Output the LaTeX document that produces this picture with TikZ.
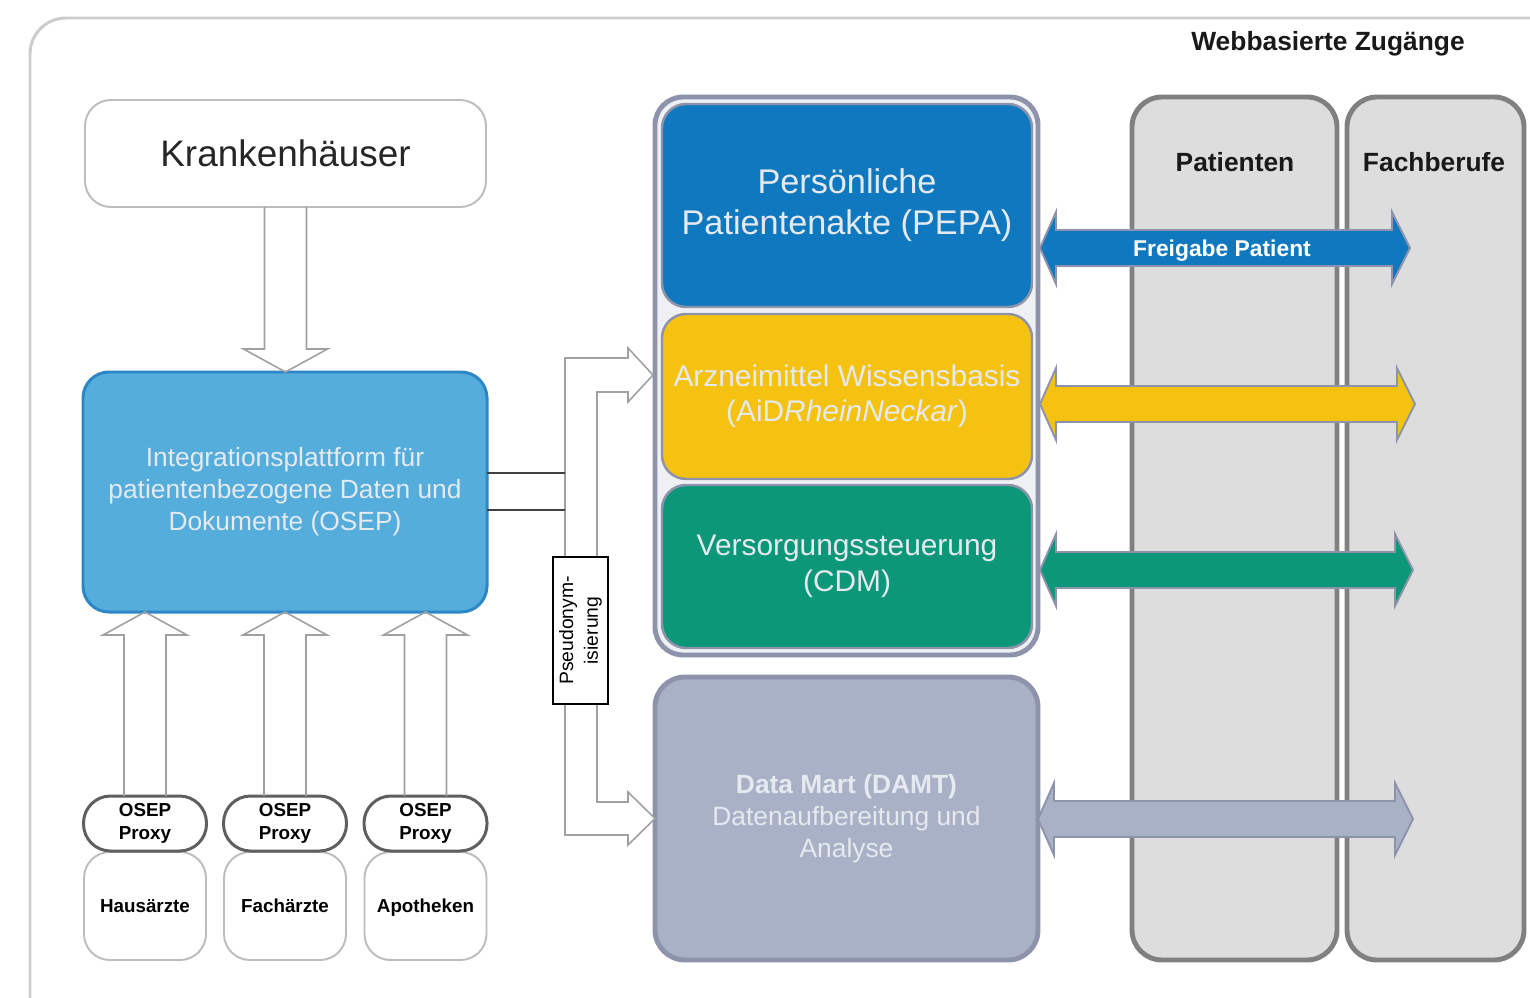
\documentclass[tikz,border=0pt]{standalone}
\usepackage{fontspec}
\setmainfont{Liberation Sans}
\usetikzlibrary{calc}
\definecolor{outerline}{HTML}{CCCCCC}
\definecolor{lightline}{HTML}{BDBDBD}
\definecolor{hollowgrey}{HTML}{A0A0A0}
\definecolor{osepfill}{HTML}{55ADDC}
\definecolor{osepline}{HTML}{2B87C8}
\definecolor{pepafill}{HTML}{1078BE}
\definecolor{aidfill}{HTML}{F6C211}
\definecolor{cdmfill}{HTML}{0B9778}
\definecolor{damtfill}{HTML}{A9B1C7}
\definecolor{modline}{HTML}{8D93AA}
\definecolor{framefill}{HTML}{EEF0F4}
\definecolor{colfill}{HTML}{DDDDDD}
\definecolor{colline}{HTML}{808080}
\definecolor{proxyline}{HTML}{5F5F5F}
\definecolor{modtext}{HTML}{E4EAEF}
\newcommand{\pxu}{0.02cm}
\newcommand{\hollowarr}[3]{\draw[hollowline] ($(#1)+(-21,0)$) -- ($(#2)+(-21,#3*23)$) -- ($(#2)+(-42,#3*23)$) -- (#2) -- ($(#2)+(42,#3*23)$) -- ($(#2)+(21,#3*23)$) -- ($(#1)+(21,0)$);}
\newcommand{\dblarr}[3]{\draw[dblarrowstyle, fill=#3] (#1) -- ($(#1)+(16,-36)$) -- ($(#1)+(16,-18)$) -- ($(#2)+(-18,-18)$) -- ($(#2)+(-18,-36)$) -- (#2) -- ($(#2)+(-18,36)$) -- ($(#2)+(-18,18)$) -- ($(#1)+(16,18)$) -- ($(#1)+(16,36)$) -- cycle;}
\begin{document}
\begin{tikzpicture}[x=0.02cm,y=-0.02cm,
 every node/.style={inner sep=0pt, outer sep=0pt, align=center},
 lightbox/.style={draw=lightline, line width=1.1pt, fill=white, rounded corners=26*\pxu},
 module/.style={draw=modline, line width=1.4pt, rounded corners=24*\pxu, text=modtext},
 column/.style={draw=colline, line width=2.8pt, fill=colfill, rounded corners=30*\pxu},
 proxybox/.style={draw=proxyline, line width=1.7pt, fill=white, rounded corners=27*\pxu, minimum width=123*\pxu, minimum height=55*\pxu, font=\bfseries\fontsize{10.7}{13}\selectfont},
 clientbox/.style={lightbox, minimum width=122*\pxu, minimum height=108*\pxu, text height=7.7pt, text depth=0pt, font=\bfseries\fontsize{10.7}{13}\selectfont},
 hollowline/.style={draw=hollowgrey, line width=0.9pt, line join=miter},
 darkline/.style={draw=black!75, line width=1.2pt},
 dblarrowstyle/.style={draw=modline, line width=1.1pt, line join=miter},
 coltitle/.style={font=\bfseries\fontsize{15}{18}\selectfont, text=black!90},
]
\useasboundingbox (0,0) rectangle (1530,997);
\clip (0,0) rectangle (1530,997);
\fill[white] (0,0) rectangle (1530,997);

% outer container
\draw[outerline, line width=1.7pt, rounded corners=36*\pxu] (30,18) rectangle (1620,1080);

\node[coltitle] (web) at (1328,44) {Webbasierte Zugänge};

% left side
\node[lightbox, minimum width=401*\pxu, minimum height=107*\pxu, text height=17pt, text depth=2pt, font=\fontsize{21}{25}\selectfont, text=black!85] (kh) at (285.5,153.5) {Krankenhäuser};

\node[draw=osepline, line width=1.7pt, fill=osepfill, rounded corners=26*\pxu, minimum width=404*\pxu, minimum height=240*\pxu, text=modtext, font=\fontsize{15}{18.2}\selectfont] (osep) at (285,492) {Integrationsplattform für\\patientenbezogene Daten und\\Dokumente (OSEP)};

\node[clientbox] (haus) at (145,906) {Hausärzte};
\node[clientbox] (fach) at (285,906) {Fachärzte};
\node[clientbox] (apo) at (425.5,906) {Apotheken};
\node[proxybox] (proxy1) at (145,823.5) {OSEP\\Proxy};
\node[proxybox] (proxy2) at (285,823.5) {OSEP\\Proxy};
\node[proxybox] (proxy3) at (425.5,823.5) {OSEP\\Proxy};

\coordinate (t0) at (kh.south |- osep.north);
\coordinate (t1) at (proxy1.north |- osep.south);
\coordinate (t2) at (proxy2.north |- osep.south);
\coordinate (t3) at (proxy3.north |- osep.south);
\hollowarr{kh.south}{t0}{-1}
\hollowarr{proxy1.north}{t1}{1}
\hollowarr{proxy2.north}{t2}{1}
\hollowarr{proxy3.north}{t3}{1}

% right columns
\node[column, minimum width=205*\pxu, minimum height=863*\pxu] (pat) at (1234.5,528.5) {};
\node[column, minimum width=177*\pxu, minimum height=863*\pxu] (fb) at (1435.5,528.5) {};
\node[coltitle] (pattitle) at (1235,162) {Patienten};
\node[coltitle] (fbtitle) at (1434,162) {Fachberufe};

% modules
\node[draw=modline, line width=2.8pt, fill=framefill, rounded corners=28*\pxu, minimum width=383*\pxu, minimum height=558*\pxu] (frame) at (846.5,376) {};
\node[module, fill=pepafill, minimum width=370*\pxu, minimum height=203*\pxu, font=\fontsize{19.5}{23.3}\selectfont] (pepa) at (847,205.5) {Persönliche\\Patientenakte (PEPA)};
\node[module, fill=aidfill, minimum width=370*\pxu, minimum height=165*\pxu, font=\fontsize{17}{20}\selectfont] (aid) at (847,396.5) {Arzneimittel Wissensbasis\\(AiD\textit{RheinNeckar})};
\node[module, fill=cdmfill, minimum width=370*\pxu, minimum height=163*\pxu, font=\fontsize{17}{20.5}\selectfont] (cdm) at (847,566.5) {Versorgungssteuerung\\(CDM)};
\node[draw=modline, line width=2.8pt, fill=damtfill, rounded corners=30*\pxu, minimum width=383*\pxu, minimum height=283*\pxu, text=modtext, font=\fontsize{15}{18.2}\selectfont] (damt) at (846.5,818.5) {\textbf{Data Mart (DAMT)}\\Datenaufbereitung und\\Analyse};

% pseudonymisation path
\coordinate (ptop) at (653,375);
\draw[hollowline, fill=white] (ptop) -- (628,348) -- (628,358) -- (565,358) -- (565,835) -- (628,835) -- (628,845) -- (damt.west) -- (628,792) -- (628,802) -- (597,802) -- (597,392) -- (628,392) -- (628,402) -- cycle;
\draw[darkline] ($(osep.east)+(0,-19)$) -- ($(osep.east)+(78,-19)$);
\draw[darkline] ($(osep.east)+(0,18)$) -- ($(osep.east)+(78,18)$);
\node[draw=black, line width=1pt, fill=white, rotate=90, minimum width=147*\pxu, minimum height=55*\pxu, font=\fontsize{11}{14}\selectfont] (pseudo) at (580.5,630.5) {Pseudonym-\\isierung};

% double arrows
\coordinate (al1) at (1040,248); \coordinate (ar1) at (1410,248);
\coordinate (al2) at (1040,404); \coordinate (ar2) at (1415,404);
\coordinate (al3) at (1040,570); \coordinate (ar3) at (1413,570);
\coordinate (al4) at (1038,819); \coordinate (ar4) at (1413,819);
\dblarr{al1}{ar1}{pepafill}
\dblarr{al2}{ar2}{aidfill}
\dblarr{al3}{ar3}{cdmfill}
\dblarr{al4}{ar4}{damtfill}
\node[text=white, text height=9.3pt, text depth=0pt, font=\bfseries\fontsize{13}{15}\selectfont] (freigabe) at (1222,248) {Freigabe Patient};
\end{tikzpicture}
\end{document}
